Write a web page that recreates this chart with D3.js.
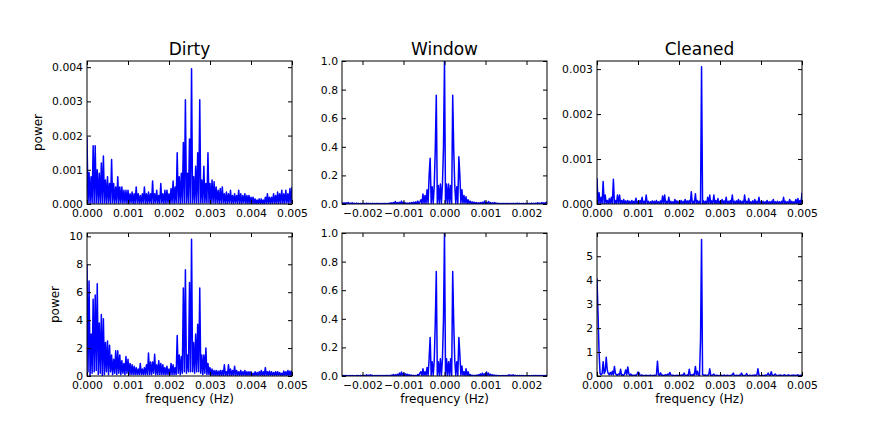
<html>
<head>
<meta charset="utf-8">
<title>Dirty / Window / Cleaned</title>
<script src="https://cdn.jsdelivr.net/npm/d3@7"></script>
<style>
  body { margin: 0; background: #fff; }
  text { font-family: "DejaVu Sans", sans-serif; fill: #000; }
  .tick text { font-size: 10.8px; }
  .title { font-size: 17px; }
  .label { font-size: 12px; }
</style>
</head>
<body>
<div id="chart"></div>
<script>

// frequency grid: 201 samples, step 0.000025 Hz
var freqStep = 0.000025;
var freqGrid = d3.range(201).map(function(i) { return i * freqStep; });
var windowGrid = d3.range(201).map(function(i) { return -0.0025 + i * freqStep; });

// top row Dirty / Cleaned powers are listed in units of 1e-4
var topUnit = 1e-4;

var dirtyTop = [
  19.5, 0.3, 9.2, 0.2, 8, 0.3, 17, 0.2, 17, 0.3,
  10, 0.2, 9, 0.3, 12, 0.2, 14, 0.3, 7, 0.2,
  8, 0.3, 6, 0.2, 13, 0.3, 6, 0.2, 5, 0.3,
  8, 0.2, 5, 0.3, 5, 0.2, 4, 0.3, 4, 0.2,
  4, 0.2, 3, 0.3, 3.5, 0.2, 3, 0.2, 5, 0.3,
  3, 0.2, 2.5, 0.2, 3, 0.3, 5, 0.2, 3, 0.2,
  3.5, 0.3, 3, 0.2, 6.7, 0.2, 3, 0.3, 4, 0.2,
  2.5, 0.2, 6, 0.3, 3, 0.2, 4, 0.2, 4, 0.3,
  3, 0.2, 4.5, 0.3, 6.7, 0.2, 5, 0.3, 15, 0.3,
  8, 0.2, 9, 0.3, 18, 0.3, 30.5, 0.3, 9, 0.3,
  19, 0.3, 39.5, 0.3, 8, 0.3, 11, 0.3, 15, 0.3,
  30.5, 0.3, 7, 0.3, 11, 0.3, 6, 0.3, 15, 0.3,
  6, 0.2, 7, 0.3, 6.5, 0.2, 5, 0.3, 4, 0.2,
  4.5, 0.2, 5, 0.3, 3, 0.2, 3.5, 0.2, 3, 0.3,
  4, 0.2, 2.5, 0.2, 3, 0.3, 2.5, 0.2, 4, 0.2,
  3, 0.2, 2.5, 0.3, 3, 0.2, 2.5, 0.1, 2.5, 0.2,
  2, 0.1, 2, 0.1, 1.5, 0.1, 1.2, 0.1, 1.5, 0.1,
  1.5, 0.1, 1.2, 0.1, 2, 0.1, 3, 0.1, 2, 0.2,
  2, 0.1, 3, 0.2, 2.5, 0.1, 3.5, 0.2, 3, 0.2,
  4, 0.2, 3, 0.2, 4, 0.3, 3, 0.2, 4.5, 0.3,
  5
];

var windowTop = [
  0.01, 0.001, 0.008, 0.001, 0.008, 0.001, 0.01, 0.001, 0.006, 0.001,
  0.008, 0.001, 0.005, 0.001, 0.006, 0.001, 0.005, 0.001, 0.004, 0.001,
  0.005, 0.001, 0.004, 0.001, 0.006, 0.001, 0.005, 0.001, 0.004, 0.001,
  0.005, 0.001, 0.004, 0.001, 0.005, 0.001, 0.004, 0.001, 0.003, 0.001,
  0.004, 0.001, 0.005, 0.001, 0.004, 0.001, 0.006, 0.001, 0.008, 0.001,
  0.01, 0.001, 0.018, 0.001, 0.01, 0.001, 0.012, 0.001, 0.02, 0.001,
  0.012, 0.001, 0.008, 0.001, 0.006, 0.001, 0.008, 0.001, 0.01, 0.001,
  0.012, 0.001, 0.015, 0.001, 0.02, 0.002, 0.015, 0.03, 0.002, 0.07,
  0.005, 0.06, 0.005, 0.1, 0.005, 0.2, 0.32, 0.005, 0.12, 0.005,
  0.13, 0.38, 0.76, 0.005, 0.13, 0.005, 0.14, 0.005, 0.14, 0.39,
  1.0, 0.005, 0.14, 0.005, 0.14, 0.005, 0.13, 0.005, 0.76, 0.38,
  0.13, 0.005, 0.12, 0.005, 0.33, 0.2, 0.005, 0.1, 0.005, 0.06,
  0.005, 0.05, 0.002, 0.03, 0.002, 0.02, 0.002, 0.015, 0.001, 0.012,
  0.001, 0.01, 0.001, 0.008, 0.001, 0.01, 0.001, 0.012, 0.001, 0.02,
  0.001, 0.012, 0.001, 0.018, 0.001, 0.01, 0.001, 0.008, 0.001, 0.01,
  0.001, 0.006, 0.001, 0.005, 0.001, 0.004, 0.001, 0.005, 0.001, 0.004,
  0.001, 0.005, 0.001, 0.004, 0.001, 0.004, 0.001, 0.005, 0.001, 0.004,
  0.001, 0.006, 0.001, 0.005, 0.001, 0.004, 0.001, 0.005, 0.001, 0.004,
  0.001, 0.005, 0.001, 0.004, 0.001, 0.006, 0.001, 0.005, 0.001, 0.006,
  0.001, 0.008, 0.001, 0.006, 0.001, 0.01, 0.001, 0.008, 0.001, 0.01,
  0.012
];

var cleanTop = [
  5.8, 0.1, 2.5, 0.1, 1.5, 0.1, 5, 0.1, 2, 0.1,
  0.8, 0.1, 1.2, 0.1, 1.5, 0.1, 5.5, 0.1, 0.8, 0.1,
  2, 0.05, 2, 0.05, 0.8, 0.05, 1, 0.05, 0.7, 0.05,
  0.8, 0.05, 0.6, 0.05, 0.8, 0.05, 0.6, 0.05, 1.3, 0.05,
  0.6, 0.05, 0.8, 0.05, 1.5, 0.05, 0.6, 0.05, 2, 0.05,
  0.6, 0.05, 0.5, 0.05, 0.7, 0.05, 0.6, 0.05, 0.8, 0.05,
  0.5, 0.05, 0.7, 0.05, 1.8, 0.05, 2, 0.05, 0.6, 0.05,
  1.5, 0.05, 0.6, 0.05, 0.5, 0.05, 1, 0.05, 0.7, 0.05,
  0.6, 0.05, 0.8, 0.05, 0.6, 0.05, 1, 0.05, 0.7, 0.05,
  0.8, 0.05, 2.7, 0.05, 0.6, 0.05, 2.3, 0.05, 0.8, 0.05,
  0.6, 0.05, 30.5, 0.05, 0.7, 0.05, 0.6, 0.05, 1.5, 0.05,
  2, 0.05, 0.7, 0.05, 2, 0.05, 0.8, 0.05, 1.2, 0.05,
  0.6, 0.05, 1, 0.05, 0.7, 0.05, 1.5, 0.05, 0.6, 0.05,
  0.8, 0.05, 2, 0.05, 0.6, 0.05, 0.7, 0.05, 1, 0.05,
  0.7, 0.05, 0.6, 0.05, 2, 0.05, 0.6, 0.05, 1.2, 0.05,
  0.5, 0.05, 0.7, 0.05, 1, 0.05, 0.6, 0.05, 1.5, 0.05,
  0.5, 0.05, 0.6, 0.05, 0.5, 0.05, 0.8, 0.05, 0.5, 0.05,
  0.6, 0.05, 1, 0.05, 0.5, 0.05, 0.6, 0.05, 0.5, 0.05,
  0.6, 0.05, 1.5, 0.05, 0.6, 0.05, 0.5, 0.05, 1, 0.05,
  0.6, 0.05, 0.5, 0.05, 1, 0.05, 1.2, 0.05, 0.8, 0.05,
  2.5
];

var dirtyBottom = [
  8.0, 0.3, 6.8, 0, 3, 0.2, 5.5, 0.3, 5.8, 0.4,
  6.6, 0.1, 3.8, 0.2, 4.4, 0, 4.1, 0.1, 2.4, 0.3,
  2.5, 0.1, 2.2, 0.3, 1.5, 0.1, 1.2, 0.2, 1.8, 0.1,
  1.8, 0.2, 1.5, 0.1, 1.1, 0.2, 0.9, 0.1, 1.4, 0.2,
  1.2, 0.1, 0.9, 0.1, 0.8, 0.1, 0.7, 0.1, 0.6, 0.1,
  0.5, 0.1, 0.9, 0.1, 0.5, 0.1, 0.6, 0.1, 0.8, 0.1,
  1.65, 0.1, 1.0, 0.1, 1.0, 0.2, 1.55, 0.1, 0.8, 0.1,
  1.1, 0.1, 0.9, 0.1, 0.8, 0.1, 0.6, 0.1, 0.7, 0.1,
  0.5, 0.1, 0.9, 0.1, 0.8, 0.1, 0.6, 0.1, 2.9, 0.2,
  1.5, 0.1, 1.4, 0.2, 6.3, 0.3, 7.6, 0.2, 1.5, 0.3,
  6.7, 0.3, 9.8, 0.3, 2.4, 0.2, 3.0, 0.3, 3.7, 0.3,
  6.3, 0.2, 1.5, 0.1, 1.5, 0.2, 2.0, 0.1, 0.9, 0.1,
  0.6, 0.05, 0.5, 0.05, 0.4, 0.05, 0.4, 0.05, 0.35, 0.05,
  0.4, 0.05, 0.4, 0.05, 0.8, 0.05, 0.3, 0.05, 0.8, 0.05,
  0.5, 0.05, 0.4, 0.05, 0.7, 0.05, 0.4, 0.05, 0.3, 0.05,
  0.4, 0.05, 0.3, 0.05, 0.4, 0.05, 0.3, 0.05, 0.3, 0.05,
  0.3, 0.05, 0.2, 0.05, 0.3, 0.05, 0.25, 0.05, 0.3, 0.05,
  0.4, 0.05, 0.3, 0.05, 0.6, 0.05, 0.3, 0.05, 0.35, 0.05,
  0.3, 0.05, 0.25, 0.05, 0.3, 0.05, 0.3, 0.05, 0.25, 0.05,
  0.2, 0.05, 0.35, 0.05, 0.3, 0.05, 0.4, 0.05, 0.35, 0.05,
  0.4
];

var windowBottom = [
  0.003, 0.001, 0.004, 0.001, 0.003, 0.001, 0.002, 0.001, 0.003, 0.001,
  0.003, 0.001, 0.002, 0.001, 0.003, 0.001, 0.004, 0.001, 0.003, 0.001,
  0.004, 0.001, 0.003, 0.001, 0.008, 0.001, 0.006, 0.001, 0.008, 0.001,
  0.005, 0.001, 0.003, 0.001, 0.004, 0.001, 0.003, 0.001, 0.004, 0.001,
  0.003, 0.001, 0.004, 0.001, 0.005, 0.001, 0.004, 0.001, 0.006, 0.001,
  0.01, 0.001, 0.008, 0.001, 0.012, 0.001, 0.02, 0.001, 0.028, 0.001,
  0.02, 0.001, 0.015, 0.001, 0.012, 0.001, 0.008, 0.001, 0.006, 0.001,
  0.005, 0.001, 0.004, 0.001, 0.01, 0.002, 0.02, 0.03, 0.002, 0.05,
  0.005, 0.03, 0.005, 0.06, 0.005, 0.12, 0.27, 0.005, 0.1, 0.005,
  0.11, 0.37, 0.73, 0.005, 0.1, 0.005, 0.12, 0.005, 0.12, 0.39,
  1.0, 0.005, 0.12, 0.005, 0.1, 0.005, 0.12, 0.005, 0.73, 0.37,
  0.11, 0.005, 0.1, 0.005, 0.27, 0.15, 0.005, 0.07, 0.005, 0.03,
  0.002, 0.05, 0.002, 0.03, 0.002, 0.01, 0.001, 0.006, 0.001, 0.005,
  0.001, 0.006, 0.001, 0.008, 0.001, 0.015, 0.001, 0.02, 0.001, 0.015,
  0.001, 0.028, 0.001, 0.02, 0.001, 0.012, 0.001, 0.008, 0.001, 0.006,
  0.001, 0.005, 0.001, 0.004, 0.001, 0.002, 0.001, 0.003, 0.001, 0.003,
  0.001, 0.004, 0.001, 0.008, 0.001, 0.006, 0.001, 0.008, 0.001, 0.005,
  0.001, 0.003, 0.001, 0.004, 0.001, 0.003, 0.001, 0.003, 0.001, 0.002,
  0.001, 0.003, 0.001, 0.002, 0.001, 0.003, 0.001, 0.003, 0.001, 0.004,
  0.001, 0.003, 0.001, 0.003, 0.001, 0.003, 0.001, 0.004, 0.001, 0.003,
  0.003
];

var cleanBottom = [
  4.07, 2.6, 1.0, 0.1, 0.05, 0.1, 0.6, 0.1, 0.2, 0.78,
  0.25, 0.1, 0.05, 0.15, 0.05, 0.2, 0.05, 0.4, 0.1, 0.05,
  0.03, 0.08, 0.05, 0.28, 0.03, 0.05, 0.02, 0.1, 0.25, 0.05,
  0.38, 0.1, 0.03, 0.08, 0.02, 0.03, 0.01, 0.04, 0.02, 0.06,
  0.17, 0.13, 0.03, 0.02, 0.04, 0.01, 0.02, 0.01, 0.03, 0.01,
  0.02, 0.01, 0.04, 0.01, 0.02, 0.01, 0.03, 0.02, 0.05, 0.62,
  0.05, 0.03, 0.13, 0.02, 0.04, 0.01, 0.03, 0.05, 0.02, 0.08,
  0.03, 0.15, 0.05, 0.02, 0.03, 0.01, 0.02, 0.01, 0.03, 0.02,
  0.01, 0.03, 0.02, 0.05, 0.02, 0.12, 0.03, 0.01, 0.04, 0.02,
  0.28, 0.03, 0.05, 0.02, 0.08, 0.03, 0.4, 0.05, 0.2, 0.03,
  0.02, 1.5, 5.7, 0.05, 0.04, 0.02, 0.04, 0.01, 0.03, 0.05,
  0.3, 0.03, 0.02, 0.04, 0.08, 0.01, 0.02, 0.03, 0.01, 0.02,
  0.01, 0.03, 0.02, 0.01, 0.04, 0.02, 0.01, 0.03, 0.02, 0.01,
  0.02, 0.03, 0.05, 0.12, 0.02, 0.01, 0.03, 0.02, 0.01, 0.04,
  0.02, 0.12, 0.03, 0.01, 0.02, 0.03, 0.1, 0.02, 0.01, 0.03,
  0.02, 0.01, 0.03, 0.02, 0.04, 0.02, 0.05, 0.3, 0.04, 0.02,
  0.01, 0.03, 0.02, 0.01, 0.04, 0.02, 0.05, 0.12, 0.03, 0.02,
  0.18, 0.03, 0.02, 0.04, 0.08, 0.02, 0.01, 0.03, 0.02, 0.04,
  0.02, 0.01, 0.03, 0.05, 0.02, 0.01, 0.03, 0.04, 0.02, 0.01,
  0.03, 0.02, 0.04, 0.01, 0.03, 0.02, 0.05, 0.02, 0.01, 0.03,
  0.04
];

var titles = ["Dirty", "Window", "Cleaned"];
var xTicksPos = [0, 0.001, 0.002, 0.003, 0.004, 0.005];
var xTicksWin = [-0.002, -0.001, 0, 0.001, 0.002];

var width = 872;
var height = 431;
var colX = [87, 342, 597];
var rowY = [61, 233];
var axW = 205;
var axH = 143;

var panels = [
  { row: 0, col: 0, x: freqGrid, y: dirtyTop, unit: topUnit, xdom: [0, 0.005], ydom: [0, 0.00418],
    xticks: xTicksPos, xfmt: ".3f", yticks: [0, 0.001, 0.002, 0.003, 0.004], yfmt: ".3f" },
  { row: 0, col: 1, x: windowGrid, y: windowTop, unit: 1, xdom: [-0.0025, 0.0025], ydom: [0, 1],
    xticks: xTicksWin, xfmt: ".3f", yticks: [0, 0.2, 0.4, 0.6, 0.8, 1.0], yfmt: ".1f" },
  { row: 0, col: 2, x: freqGrid, y: cleanTop, unit: topUnit, xdom: [0, 0.005], ydom: [0, 0.00318],
    xticks: xTicksPos, xfmt: ".3f", yticks: [0, 0.001, 0.002, 0.003], yfmt: ".3f" },
  { row: 1, col: 0, x: freqGrid, y: dirtyBottom, unit: 1, xdom: [0, 0.005], ydom: [0, 10.24],
    xticks: xTicksPos, xfmt: ".3f", yticks: [0, 2, 4, 6, 8, 10], yfmt: "d" },
  { row: 1, col: 1, x: windowGrid, y: windowBottom, unit: 1, xdom: [-0.0025, 0.0025], ydom: [0, 1],
    xticks: xTicksWin, xfmt: ".3f", yticks: [0, 0.2, 0.4, 0.6, 0.8, 1.0], yfmt: ".1f" },
  { row: 1, col: 2, x: freqGrid, y: cleanBottom, unit: 1, xdom: [0, 0.005], ydom: [0, 5.97],
    xticks: xTicksPos, xfmt: ".3f", yticks: [0, 1, 2, 3, 4, 5], yfmt: "d" }
];

var svg = d3.select("#chart")
  .append("svg")
    .attr("width", width)
    .attr("height", height);

svg.append("rect")
  .attr("width", width)
  .attr("height", height)
  .attr("fill", "#fff");

panels.forEach(function(p, k) {
  var g = svg.append("g")
    .attr("transform", "translate(" + colX[p.col] + "," + rowY[p.row] + ")");

  var x = d3.scaleLinear().domain(p.xdom).range([0, axW]);
  var y = d3.scaleLinear().domain(p.ydom).range([axH, 0]);

  g.append("clipPath")
    .attr("id", "clip" + k)
    .append("rect")
      .attr("width", axW)
      .attr("height", axH);

  var pts = p.y.map(function(v, i) { return [p.x[i], v * p.unit]; });

  var line = d3.line()
    .x(function(d) { return x(d[0]); })
    .y(function(d) { return y(d[1]); });

  g.append("path")
    .datum(pts)
    .attr("clip-path", "url(#clip" + k + ")")
    .attr("fill", "none")
    .attr("stroke", "#0000ff")
    .attr("stroke-width", 1.5)
    .attr("stroke-linejoin", "round")
    .attr("d", line);

  // ticks point inward on all four sides
  g.append("g")
    .attr("transform", "translate(0," + axH + ")")
    .call(d3.axisBottom(x).tickValues(p.xticks).tickFormat(d3.format(p.xfmt))
      .tickSizeInner(-4).tickSizeOuter(0).tickPadding(5));
  g.append("g")
    .call(d3.axisTop(x).tickValues(p.xticks).tickFormat("")
      .tickSizeInner(-4).tickSizeOuter(0));
  var left = g.append("g")
    .call(d3.axisLeft(y).tickValues(p.yticks).tickFormat(d3.format(p.yfmt))
      .tickSizeInner(-4).tickSizeOuter(0).tickPadding(4));
  g.append("g")
    .attr("transform", "translate(" + axW + ",0)")
    .call(d3.axisRight(y).tickValues(p.yticks).tickFormat("")
      .tickSizeInner(-4).tickSizeOuter(0));

  g.selectAll(".domain").remove();
  g.selectAll(".tick line").attr("stroke", "#000");
  g.selectAll(".tick text").attr("font-family", null).attr("font-size", null);

  g.append("rect")
    .attr("width", axW)
    .attr("height", axH)
    .attr("fill", "none")
    .attr("stroke", "#000")
    .attr("stroke-width", 1);

  if (p.row === 0) {
    g.append("text")
      .attr("class", "title")
      .attr("x", axW / 2)
      .attr("y", -6)
      .attr("text-anchor", "middle")
      .text(titles[p.col]);
  }

  if (p.col === 0) {
    var bb = left.node().getBBox();
    g.append("text")
      .attr("class", "label")
      .attr("text-anchor", "middle")
      .attr("transform", "translate(" + (bb.x - 10) + "," + (axH / 2) + ") rotate(-90)")
      .text("power");
  }

  if (p.row === 1) {
    g.append("text")
      .attr("class", "label")
      .attr("x", axW / 2)
      .attr("y", axH + 27)
      .attr("text-anchor", "middle")
      .text("frequency (Hz)");
  }
});
</script>
</body>
</html>
